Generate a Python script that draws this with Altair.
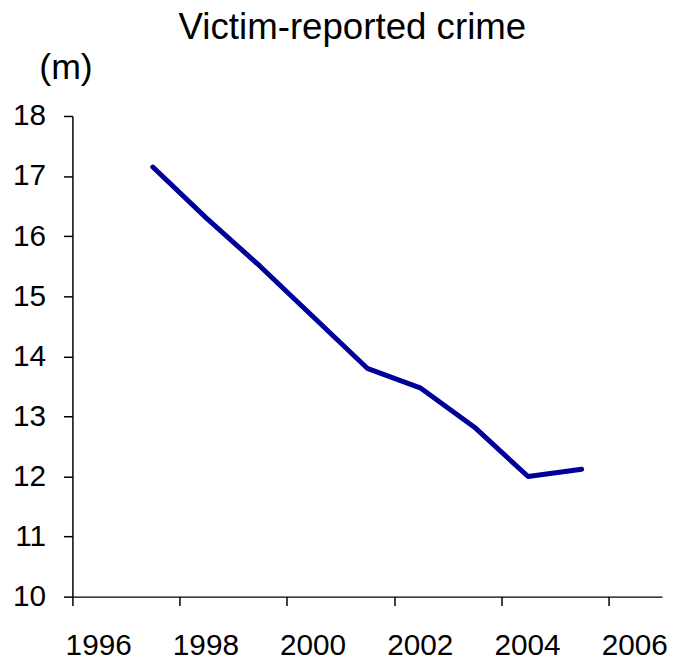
import altair as alt
import pandas as pd

# Data (mid-year points)
years = [1997.5, 1998.5, 1999.5, 2000.5, 2001.5, 2002.5, 2003.5, 2004.5, 2005.5]
crime_m = [17.15, 16.30, 15.50, 14.65, 13.80, 13.47, 12.82, 12.00, 12.12]
x_ticks = [1996, 1998, 2000, 2002, 2004, 2006]
y_ticks = [10, 11, 12, 13, 14, 15, 16, 17, 18]

df = pd.DataFrame({"year": years, "value": crime_m})

FONT = "Liberation Sans"

chart = (
    alt.Chart(df)
    .mark_line(color="#000099", strokeWidth=5, strokeCap="round", strokeJoin="round")
    .encode(
        x=alt.X(
            "year:Q",
            scale=alt.Scale(domain=[1996, 2007], nice=False, zero=False),
            axis=alt.Axis(
                values=x_ticks,
                format="d",
                title=None,
                grid=False,
                labelFlush=False,
                labelOverlap=False,
                labelOffset=26,
                labelFontSize=30,
                labelFont=FONT,
                labelColor="black",
                labelPadding=25,
                tickSize=9,
                tickColor="black",
                tickWidth=1.5,
                domainColor="black",
                domainWidth=1.5,
            ),
        ),
        y=alt.Y(
            "value:Q",
            scale=alt.Scale(domain=[10, 18], nice=False, zero=False),
            axis=alt.Axis(
                values=y_ticks,
                format="d",
                grid=False,
                title="(m)",
                titleAngle=0,
                titleX=-7,
                titleY=-38,
                titleAlign="center",
                titleBaseline="alphabetic",
                titleFontSize=36,
                titleFontWeight="normal",
                titleFont=FONT,
                titleColor="black",
                labelFontSize=30,
                labelFont=FONT,
                labelColor="black",
                labelPadding=18,
                tickSize=9,
                tickColor="black",
                tickWidth=1.5,
                domainColor="black",
                domainWidth=1.5,
            ),
        ),
    )
    .properties(
        width=595,
        height=485,
        autosize="none",
        padding={"left": 65, "top": 106, "right": 8, "bottom": 62},
        title=alt.TitleParams(
            "Victim-reported crime",
            fontSize=37,
            font=FONT,
            fontWeight="normal",
            color="black",
            anchor="middle",
            dx=-15,
            offset=3,
        ),
    )
    .configure_view(stroke=None)
)

chart.save("out.html", embed_options={"renderer": "svg", "actions": False})
